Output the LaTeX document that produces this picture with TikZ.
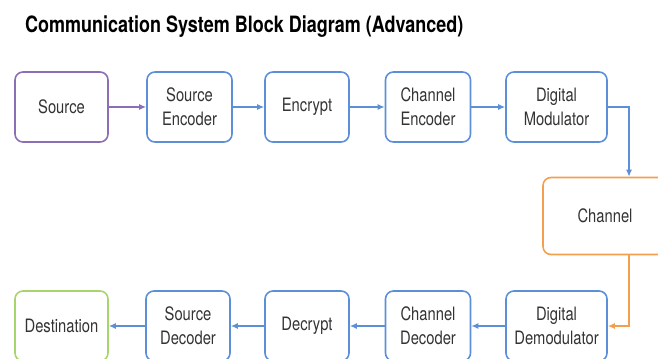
\documentclass[tikz,border=0pt]{standalone}
\usepackage{fontspec}
\setmainfont[FakeStretch=0.8]{TeX Gyre Heros}
\usetikzlibrary{arrows.meta}
\definecolor{srcpurple}{HTML}{8C6DB8}
\definecolor{boxblue}{HTML}{5B8FD8}
\definecolor{chanorange}{HTML}{F2A04E}
\definecolor{dstgreen}{HTML}{A8D46C}
\definecolor{txtgray}{HTML}{333333}
\tikzset{
  block/.style={draw=boxblue,rounded corners=4.5pt,line width=0.9pt,minimum height=1.4cm,
    inner sep=1pt,align=center,text=txtgray,font=\fontsize{10.5}{13.5}\selectfont},
  link/.style={->,boxblue,line width=0.9pt}
}
\begin{document}
\begin{tikzpicture}[x=0.02cm,y=-0.02cm,>={Latex[length=4pt,width=3.5pt]}]
                \useasboundingbox (0,0) rectangle (658,358);
                
                \node [anchor=west,text=black,font=\bfseries\fontsize{12.8}{14}\selectfont] (title) at (19,27) {Communication System Block Diagram (Advanced)};
                
                % sender row
                \node [block,draw=srcpurple,minimum width=1.86cm] (src) at (61.5,107) {Source};
                \node [block,minimum width=1.7cm] (senc) at (189.5,107) {Source\\Encoder};
                \node [block,minimum width=1.68cm] (encr) at (307,107) {Encrypt};
                \node [block,minimum width=1.7cm] (cenc) at (428,107) {Channel\\Encoder};
                \node [block,minimum width=2.02cm] (mod) at (556.5,107) {Digital\\Modulator};
                
                % channel
                \node [block,draw=chanorange,minimum width=2.48cm,minimum height=1.54cm] (chan) at (605,216) {Channel};
                
                % receiver row
                \node [block,minimum width=2.02cm] (dmod) at (556.5,326) {Digital\\Demodulator};
                \node [block,minimum width=1.7cm] (cdec) at (428,326) {Channel\\Decoder};
                \node [block,minimum width=1.68cm] (decr) at (307,326) {Decrypt};
                \node [block,minimum width=1.68cm] (sdec) at (188,326) {Source\\Decoder};
                \node [block,draw=dstgreen,minimum width=1.86cm] (dst) at (61.5,326) {Destination};
                
                \coordinate (bend) at (629,0);
                
                \draw[link,srcpurple] (src) -- (senc);
                \draw[link] (senc) -- (encr);
                \draw[link] (encr) -- (cenc);
                \draw[link] (cenc) -- (mod);
                \draw[link] (mod.east) -| (chan.north -| bend); % down to channel
                
                \draw[link,chanorange] (chan.south -| bend) |- (dmod.east); % back to receiver
                \draw[link] (dmod) -- (cdec);
                \draw[link] (cdec) -- (decr);
                \draw[link] (decr) -- (sdec);
                \draw[link] (sdec) -- (dst);
            \end{tikzpicture}
\end{document}
